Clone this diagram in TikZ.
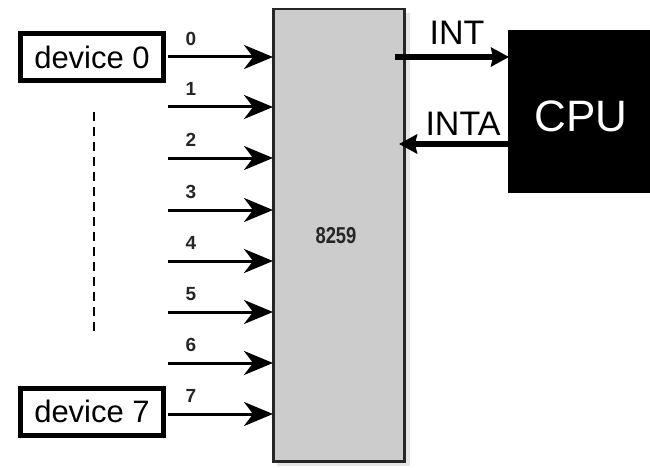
\documentclass[tikz,border=0pt]{standalone}
\usepackage{fontspec}
\usepackage{graphicx}
\setmainfont{Liberation Sans}
\usetikzlibrary{arrows.meta}
\begin{document}
\begin{tikzpicture}[x=1pt,y=-1pt,
  dev/.style={draw=black,line width=5pt,fill=white,minimum width=143pt,minimum height=47pt,inner sep=0pt,font=\fontsize{31}{32}\selectfont},
  inarr/.style={line width=3pt,-{Stealth[length=29pt,width=24pt,inset=9pt]}},
  bigarr/.style={line width=5.5pt,-{Stealth[length=18pt,width=19pt,inset=2pt]}},
  num/.style={font=\fontsize{19}{20}\selectfont\bfseries,text=black!85},
  sig/.style={font=\fontsize{34}{36}\selectfont}]
\useasboundingbox (0,0) rectangle (650,468);
% chip shadow
\fill[black!10] (277,13) rectangle (410,466);
% chip
\node[draw=black!85,line width=2.5pt,fill=black!20,minimum width=131pt,minimum height=452pt,inner sep=0pt,anchor=north west] (chip) at (272,8) {};
\node[font=\fontsize{23}{24}\selectfont\bfseries,text=black!85] (lbl) at (336,236) {\scalebox{0.8}[1]{8259}};
% devices
\node[dev] (d0) at (92,57.5) {device 0};
\node[dev] (d7) at (92,411.5) {device 7};
% dashed line
\coordinate (ds) at (94,112);
\coordinate (de) at (94,336);
\draw[line width=1.6pt,dash pattern=on 9pt off 6pt] (ds) -- (de);
% inputs
\foreach \i/\y in {0/57,1/107,2/158,3/210,4/261,5/312,6/363,7/414}{
  \coordinate (s\i) at (168,\y);
  \coordinate (e\i) at (273,\y);
  \draw[inarr] (s\i) -- (e\i);
  \node[num] (n\i) at (191,\y-18) {\i};
}
% CPU
\node[fill=black,minimum width=150pt,minimum height=163pt,anchor=north west,inner sep=0pt] (cpu) at (508,30) {};
\node[text=white,font=\fontsize{44}{46}\selectfont] (cputxt) at (581,116) {CPU};
% INT / INTA
\coordinate (intS) at (395,57);
\coordinate (intE) at (509,57);
\draw[bigarr] (intS) -- (intE);
\node[sig] (intl) at (457,33) {INT};
\coordinate (intaS) at (508,144);
\coordinate (intaE) at (399,144);
\draw[bigarr] (intaS) -- (intaE);
\node[sig] (intal) at (463,124) {INTA};
\end{tikzpicture}
\end{document}
